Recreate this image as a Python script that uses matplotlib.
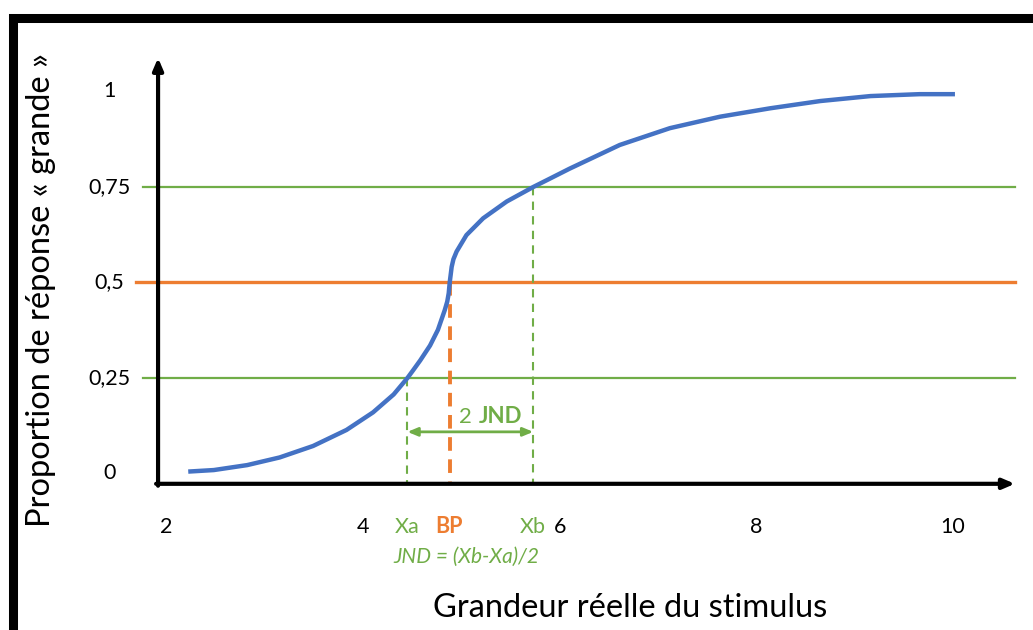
import matplotlib.pyplot as plt
from matplotlib.patches import Rectangle

plt.rcParams['font.family'] = ['Lato', 'DejaVu Sans']

# Courbe psychométrique
stim_x = [2.22, 2.48, 2.82, 3.15, 3.49, 3.83, 4.10, 4.31, 4.45, 4.51, 4.58,
          4.68, 4.76, 4.83, 4.855, 4.87, 4.88, 4.90, 4.918, 4.95, 5.05, 5.22,
          5.46, 5.73, 5.90, 6.10, 6.61, 7.12, 7.63, 8.14, 8.65, 9.16, 9.66, 10.02]
prop_y = [0.005, 0.009, 0.022, 0.042, 0.072, 0.114, 0.160, 0.207, 0.25, 0.271, 0.296,
          0.335, 0.376, 0.428, 0.45, 0.472, 0.50, 0.541, 0.561, 0.581, 0.624, 0.668,
          0.712, 0.75, 0.772, 0.798, 0.860, 0.904, 0.934, 0.956, 0.975, 0.988, 0.993, 0.993]

x_ticks = [2, 4, 6, 8, 10]
x_tick_labels = ['2', '4', '6', '8', '10']
y_ticks = [0, 0.25, 0.5, 0.75, 1]
y_tick_labels = ['0', '0,25', '0,5', '0,75', '1']

xa, bp, xb = 4.45, 4.88, 5.73

BLUE = '#4472C4'
GREEN = '#70AD47'
ORANGE = '#ED7D31'

fig = plt.figure(figsize=(10.33, 6.3), dpi=100)
ax = fig.add_axes([0, 0, 1, 1])
ax.set_xlim(0.305, 10.814)
ax.set_ylim(-0.4097, 1.2395)
ax.axis('off')

# cadre noir
fig.patches.append(Rectangle((0.0124, -0.2), 1.2, 1.1717, transform=fig.transFigure,
                             fill=False, edgecolor='black', linewidth=6.5))

x_axis_y = -0.027
y_axis_x = 1.913
x_end = 10.63

# lignes horizontales
ax.plot([1.76, x_end], [0.25, 0.25], color=GREEN, lw=1.6)
ax.plot([1.76, x_end], [0.75, 0.75], color=GREEN, lw=1.6)
ax.plot([1.69, x_end], [0.5, 0.5], color=ORANGE, lw=2.4)

# pointillés verticaux
ax.plot([xa, xa], [0.25, x_axis_y], color=GREEN, lw=1.5, dashes=(4, 3))
ax.plot([xb, xb], [0.75, x_axis_y], color=GREEN, lw=1.5, dashes=(4, 3))
ax.plot([bp, bp], [0.5, x_axis_y], color=ORANGE, lw=2.8, dashes=(3.5, 2.2))

# axes avec flèches
ax.annotate('', xy=(x_end, x_axis_y), xytext=(y_axis_x - 0.02, x_axis_y),
            arrowprops=dict(arrowstyle='-|>,head_length=0.7,head_width=0.3',
                            color='black', lw=3, shrinkA=0, shrinkB=0))
ax.annotate('', xy=(y_axis_x, 1.088), xytext=(y_axis_x, x_axis_y - 0.005),
            arrowprops=dict(arrowstyle='-|>,head_length=0.7,head_width=0.3',
                            color='black', lw=3, shrinkA=0, shrinkB=0))

# courbe
ax.plot(stim_x, prop_y, color=BLUE, lw=3.2, solid_capstyle='butt',
        solid_joinstyle='round')

# 2 JND
ax.annotate('', xy=(xa, 0.109), xytext=(xb, 0.109),
            arrowprops=dict(arrowstyle='<|-|>,head_length=0.6,head_width=0.25',
                            color=GREEN, lw=2, shrinkA=0, shrinkB=0))
ax.text(5.107, 0.148, '2', color=GREEN, fontsize=16, ha='right', va='center')
ax.text(5.178, 0.148, 'JND', color=GREEN, fontsize=16, fontweight='bold',
        ha='left', va='center')

# graduations
for x, lab in zip(x_ticks, x_tick_labels):
    ax.text(x, -0.140, lab, fontsize=15.5, ha='center', va='center')
for y, lab in zip(y_ticks, y_tick_labels):
    ax.text(1.42, y, lab, fontsize=15.5, ha='center', va='center')

ax.text(xa, -0.140, 'Xa', color=GREEN, fontsize=15.5, ha='center', va='center')
ax.text(bp - 0.01, -0.140, 'BP', color=ORANGE, fontsize=15.5, fontweight='bold',
        ha='center', va='center')
ax.text(xb, -0.140, 'Xb', color=GREEN, fontsize=15.5, ha='center', va='center')
ax.text(5.046, -0.219, 'JND = (Xb-Xa)/2', color=GREEN, fontsize=15,
        style='italic', ha='center', va='center')

# titres des axes
ax.text(6.715, -0.352, 'Grandeur réelle du stimulus', fontsize=23.5,
        ha='center', va='center')
ax.text(0.72, 0.48, 'Proportion de réponse « grande »', fontsize=23.5,
        rotation=90, ha='center', va='center')

fig.savefig('out.png', dpi=100)
